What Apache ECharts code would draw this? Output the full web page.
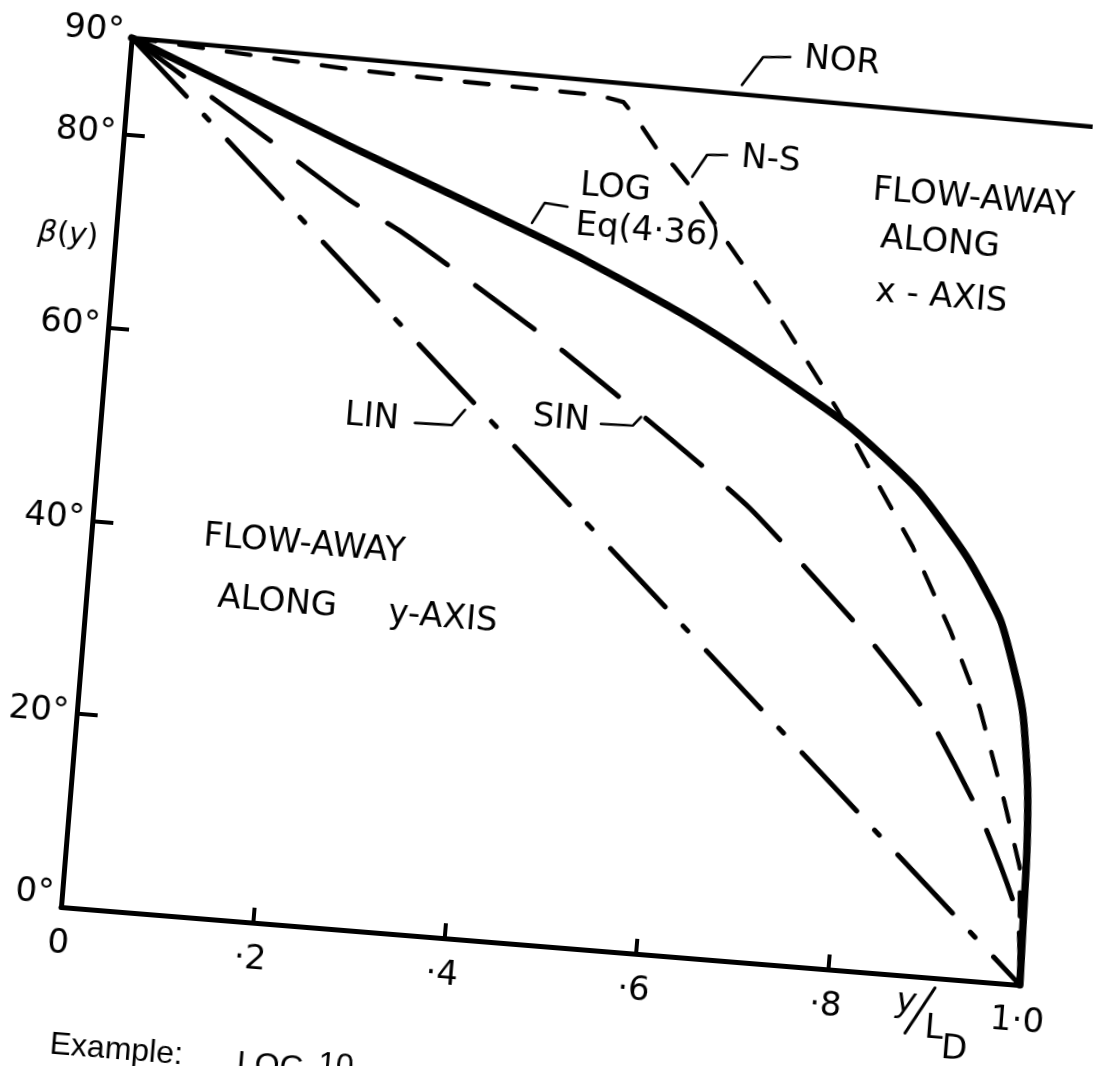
<!DOCTYPE html>
<html>
<head>
<meta charset="utf-8">
<script src="https://cdn.jsdelivr.net/npm/echarts@6/dist/echarts.min.js"></script>
<style>
  html, body { margin: 0; padding: 0; width: 1100px; height: 1066px; overflow: hidden; background: #fff; }
  /* the plot sheet is turned 4.65° clockwise about the plot origin (161px, 1007px) */
  #chart {
    position: absolute; left: -100px; top: -100px; width: 1300px; height: 1300px;
    transform-origin: 161px 1007px; transform: rotate(4.65deg);
  }
</style>
</head>
<body>
<div id="chart"></div>
<script>
// axis ticks and their printed labels
const xTickValues = [0, 0.2, 0.4, 0.6, 0.8, 1.0];
const xTickText   = ['0', '·2', '·4', '·6', '·8', '1·0'];
const yTickValues = [0, 20, 40, 60, 80, 90];
const yTickText   = ['0°', '20°', '40°', '60°', '80°', '90°'];

// flow-away angle β(y) in degrees against y/L_D for each profile
const norCurve = [[0, 90], [1.006, 88.9]];
const nsCurve  = [[0, 90], [0.229, 88.6], [0.333, 88.3], [0.489, 88.0], [0.515, 87.5],
                  [0.530, 85.9], [0.554, 82.9], [0.572, 81.4], [0.591, 79.4], [0.634, 74.0],
                  [0.674, 69.2], [0.699, 66.1], [0.763, 57.6], [0.793, 53.0], [0.852, 44.2],
                  [0.898, 35.9], [0.935, 28.2], [0.969, 18.6], [0.990, 12.1], [1.0, 0]];
const logCurve = [[0, 90], [0.120, 85.3], [0.235, 80.7], [0.343, 76.6], [0.432, 73.2],
                  [0.487, 71.0], [0.577, 67.0], [0.632, 64.3], [0.722, 59.3], [0.777, 56.0],
                  [0.852, 50.1], [0.909, 43.6], [0.949, 37.4], [0.971, 31.3], [0.981, 27.6],
                  [0.991, 20.8], [0.996, 13.9], [0.998, 7.0], [1.0, 0]];
const sinCurve = [[0, 90], [0.152, 80.6], [0.240, 75.1], [0.294, 72.4], [0.366, 68.1],
                  [0.467, 61.8], [0.533, 57.3], [0.560, 55.5], [0.621, 51.2], [0.680, 46.8],
                  [0.742, 41.2], [0.813, 34.5], [0.869, 28.5], [0.894, 25.2], [0.948, 16.5],
                  [0.992, 7.0], [1.0, 0]];
const linCurve = [[0, 90], [1.0, 0]];

const INK = '#000';
const FONT = '"DejaVu Sans", "Liberation Sans", sans-serif';

function pick(values, texts, v) {
  for (let i = 0; i < values.length; i++) if (Math.abs(values[i] - v) < 1e-6) return texts[i];
  return '';
}

function txt(text, x, y, align, size, extra) {
  return {
    type: 'text', x: x, y: y, silent: true, z: 50,
    style: Object.assign({
      text: text, fill: INK,
      font: 'normal ' + (size || 34) + 'px ' + FONT,
      textAlign: align || 'left', textVerticalAlign: 'middle'
    }, extra || {})
  };
}
function leader(points, w) {
  return { type: 'polyline', silent: true, z: 50,
           shape: { points: points },
           style: { stroke: INK, lineWidth: w || 2.6, fill: null, lineCap: 'round', lineJoin: 'round' } };
}

const chart = echarts.init(document.getElementById('chart'), null, { renderer: 'canvas' });

const lineBase = { type: 'line', symbol: 'none', animation: false, silent: true };

chart.setOption({
  animation: false,
  grid: { left: 161, top: 135, width: 962, height: 872, containLabel: false },
  xAxis: {
    type: 'value', min: 0, max: 1, interval: 0.2,
    splitLine: { show: false },
    axisLine: { lineStyle: { color: INK, width: 5, cap: 'round' } },
    axisTick: { inside: true, length: 15, lineStyle: { color: INK, width: 4 } },
    axisLabel: {
      margin: 20, color: INK, fontSize: 34, fontFamily: FONT,
      formatter: v => pick(xTickValues, xTickText, v)
    }
  },
  yAxis: {
    type: 'value', min: 0, max: 90, interval: 20,
    splitLine: { show: false },
    axisLine: { lineStyle: { color: INK, width: 5, cap: 'round' } },
    axisTick: { inside: true, length: 21, lineStyle: { color: INK, width: 4 } },
    axisLabel: {
      margin: 8, color: INK, fontSize: 34, fontFamily: FONT,
      formatter: v => {
        const t = pick(yTickValues, yTickText, v);
        if (v === 0) return '{low|' + t + '}';
        if (v === 90) return '{top|' + t + '}';
        return t;
      },
      rich: {
        low: { fontSize: 34, fontFamily: FONT, color: INK, padding: [0, 0, 24, 0] },
        top: { fontSize: 34, fontFamily: FONT, color: INK, padding: [0, 0, 10, 0] }
      }
    }
  },
  series: [
    Object.assign({}, lineBase, { name: 'NOR', data: norCurve, clip: false,
      lineStyle: { color: INK, width: 4.5, cap: 'round', join: 'round' } }),
    Object.assign({}, lineBase, { name: 'N-S', data: nsCurve,
      lineStyle: { color: INK, width: 4.3, type: [24, 24], cap: 'round', join: 'round' } }),
    Object.assign({}, lineBase, { name: 'LOG', data: logCurve, smooth: 0.2,
      lineStyle: { color: INK, width: 7.5, cap: 'round', join: 'round' } }),
    Object.assign({}, lineBase, { name: 'SIN', data: sinCurve, smooth: 0.2,
      lineStyle: { color: INK, width: 5, type: [73, 35], dashOffset: 8, cap: 'round', join: 'round' } }),
    Object.assign({}, lineBase, { name: 'LIN', data: linCurve,
      lineStyle: { color: INK, width: 5, type: [80, 26, 7, 27], cap: 'round' } })
  ],
  graphic: [
    // axis names
    txt('{g|β}{p|(}{i|y}{p|)}', 113.5, 337, 'center', 30, {
      rich: {
        g: { font: 'italic 30px ' + FONT, fill: INK },
        p: { font: 'normal 30px ' + FONT, fill: INK },
        i: { font: 'italic 30px ' + FONT, fill: INK }
      }
    }),
    txt('y', 1011, 1034, 'center', 34, { font: 'italic 34px ' + FONT }),
    leader([[1038.7, 1016.8], [1012.4, 1064.2]], 3),
    txt('L', 1041, 1058, 'center', 34),
    txt('D', 1062.7, 1077, 'center', 34),

    // regions
    txt('FLOW-AWAY', 273, 626, 'left', 34),
    txt('ALONG', 292, 686, 'left', 34),
    txt('y-AXIS', 463.6, 688, 'left', 34),
    txt('FLOW-AWAY', 912, 227, 'left', 34),
    txt('ALONG', 923.6, 274.5, 'left', 34),
    txt('x - AXIS', 923, 328, 'left', 34),

    // curve names with their leaders
    txt('NOR', 871, 101.5, 'center', 34),
    leader([[773, 132.5], [792, 103], [819, 100.7]]),
    txt('N-S', 808, 205, 'center', 34),
    leader([[731, 228], [744, 205], [764, 203.5]]),
    txt('LOG', 620, 246, 'left', 34),
    txt('Eq(4·36)', 618.5, 286, 'left', 34),
    leader([[575, 287], [586, 266], [609, 268]]),
    txt('LIN', 431, 494, 'center', 34),
    leader([[474.6, 495.9], [511.6, 494.9], [523.4, 478.8]]),
    txt('SIN', 620, 480, 'center', 34),
    leader([[660, 481.8], [692, 480.7], [699.4, 471.6]]),

    // worked example line under the plot
    txt('Example:', 161, 1145, 'left', 32, { font: 'normal 32px "Liberation Sans", sans-serif' }),
    txt('LOG', 349, 1149, 'left', 32, { font: 'normal 32px "Liberation Sans", sans-serif' }),
    txt('10', 430, 1143, 'left', 32, { font: 'normal 32px "Liberation Sans", sans-serif' })
  ]
});
</script>
</body>
</html>
